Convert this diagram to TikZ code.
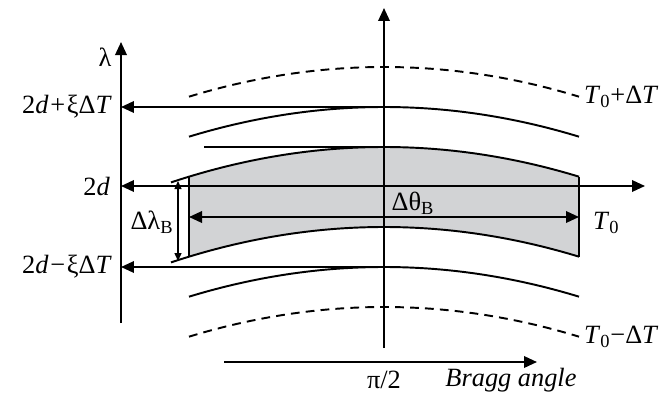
\documentclass[tikz,border=0pt]{standalone}
\usepackage{fontspec}
\setmainfont{Liberation Serif}
\usepackage{xcolor}
\usetikzlibrary{arrows.meta}
\definecolor{bgGray}{RGB}{210,211,213}

\begin{document}
\begin{tikzpicture}[
  x=0.02cm, y=-0.02cm,
  font=\fontsize{15}{17}\selectfont,
  axis/.style={line width=1.1pt, -{Triangle[length=2.6mm, width=2.3mm]}},
  level/.style={line width=1.1pt, -{Triangle[length=2.6mm, width=2.3mm]}},
  span/.style={line width=1.1pt, {Triangle[length=2.6mm, width=2.3mm]}-{Triangle[length=2.6mm, width=2.3mm]}},
  small/.style={line width=0.8pt, {Triangle[length=1.6mm, width=1.4mm]}-{Triangle[length=1.6mm, width=1.4mm]}},
  curve/.style={line width=1.1pt, domain=189:579, samples=40, smooth},
  lbl/.style={inner sep=1pt}
]
\path[use as bounding box] (0,0) rectangle (669,396);

% axes points
\coordinate (lamtop) at (121,42);
\coordinate (lambot) at (121,323);
\coordinate (ctop) at (384,8);
\coordinate (cbot) at (384,348);
\coordinate (hleft) at (121,186);
\coordinate (hright) at (645,186);
\coordinate (bstart) at (224,362);
\coordinate (bend) at (537,362);

%============ BAND T0 ============
\fill[bgGray] plot[domain=189:579, samples=40, smooth] (\x, {147+((\x-384)/35.8)^2})
  -- plot[domain=579:189, samples=40, smooth] (\x, {227+((\x-384)/35.8)^2}) -- cycle;
\draw[curve, domain=171:579] plot (\x, {147+((\x-384)/35.8)^2});
\draw[curve, domain=171:579] plot (\x, {227+((\x-384)/35.8)^2});
\draw[line width=1.1pt] (189,{147+(195/35.8)^2}) -- (189,{227+(195/35.8)^2});
\draw[line width=1.1pt] (579,{147+(195/35.8)^2}) -- (579,{227+(195/35.8)^2});
\coordinate (tline) at (204,147);
\coordinate (pk0) at (384,147);
\draw[line width=1.1pt] (tline) -- (pk0);

%============ SHIFTED CURVES ============
\draw[curve] plot (\x, {107+((\x-384)/35.8)^2});
\draw[curve] plot (\x, {267+((\x-384)/35.8)^2});
\draw[curve, dash pattern=on 5pt off 3.5pt] plot (\x, {67+((\x-384)/35.8)^2});
\draw[curve, dash pattern=on 5pt off 3.5pt] plot (\x, {307+((\x-384)/35.8)^2});

%============ AXES ============
\draw[axis] (lambot) -- (lamtop);
\draw[axis] (cbot) -- (ctop);
\draw[axis] (bstart) -- (bend);
\draw[span] (hleft) -- (hright);

% levels
\coordinate (pk1) at (384,107);
\coordinate (pk2) at (384,267);
\draw[level] (pk1) -- (pk1 -| lamtop);
\draw[level] (pk2) -- (pk2 -| lamtop);

% widths
\coordinate (dtl) at (189,217);
\coordinate (dtr) at (579,217);
\draw[span] (dtl) -- (dtr);
\coordinate (dlt) at (178,181);
\coordinate (dlb) at (178,261);
\draw[small] (dlt) -- (dlb);

%============ LABELS ============
\node[lbl] (lam) at (105,57) {λ};
\node[lbl, anchor=east] (lvup) at (114,107) {2\textit{d}\kern1pt+\kern1ptξΔ\textit{T}};
\node[lbl, anchor=east] (lv0) at (112,186) {2\textit{d}};
\node[lbl, anchor=east] (lvdn) at (114,267) {2\textit{d}\kern1pt−\kern1ptξΔ\textit{T}};
\node[lbl] (dlam) at (152,222) {Δλ\textsubscript{B}};
\node[lbl] (dth) at (413,203) {Δθ\textsubscript{B}};
\node[lbl, anchor=west] (t0) at (591,223) {\textit{T}\textsubscript{0}};
\node[lbl, anchor=west] (tup) at (582,97) {\textit{T}\textsubscript{0}+Δ\textit{T}};
\node[lbl, anchor=west] (tdn) at (582,337) {\textit{T}\textsubscript{0}−Δ\textit{T}};
\node[lbl] (pi2) at (384,380) {π/2};
\node[lbl] (bragg) at (511,380) {\textit{Bragg angle}};
\end{tikzpicture}
\end{document}
